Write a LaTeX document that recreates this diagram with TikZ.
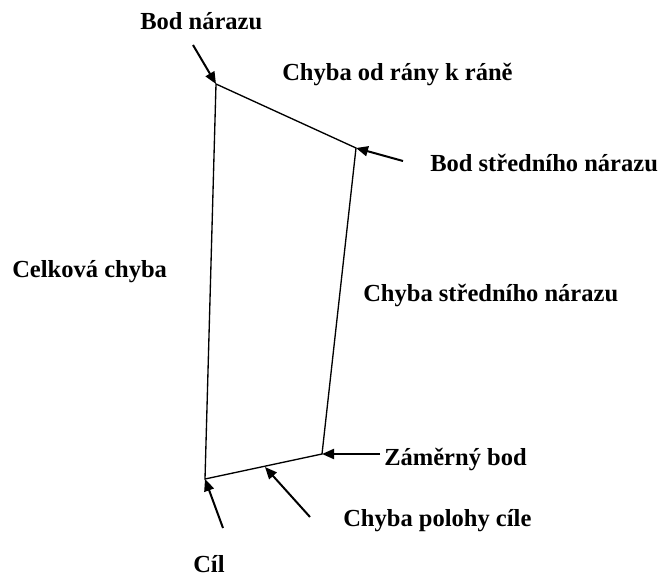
\documentclass[tikz,border=0pt]{standalone}
\usepackage{fontspec}
\setmainfont{Liberation Serif}
\usetikzlibrary{arrows.meta}
\begin{document}
\begin{tikzpicture}[x=0.75pt,y=-0.75pt,
  lbl/.style={anchor=base west,inner sep=0pt,font=\fontsize{18.4}{22}\selectfont\bfseries},
  edge/.style={line width=1pt},
  ptr/.style={line width=1.5pt,-{Triangle[length=9pt,width=7.5pt]}}]
\useasboundingbox (0,0) rectangle (660,577);
% vertices
\coordinate (A) at (216,84);
\coordinate (B) at (356,148);
\coordinate (C) at (322,454);
\coordinate (D) at (205,479);
\coordinate (M) at (265,467);
% arrow tails
\coordinate (tA) at (193,45);
\coordinate (tB) at (403,161);
\coordinate (tC) at (380,454);
\coordinate (tM) at (310,517);
\coordinate (tD) at (223,528);
% quadrilateral
\draw[edge] (A) -- (B) -- (C) -- (D) -- cycle;
% pointers
\draw[ptr] (tA) -- (A);
\draw[ptr] (tB) -- (B);
\draw[ptr] (tC) -- (C);
\draw[ptr] (tM) -- (M);
\draw[ptr] (tD) -- (D);
% labels
\node[lbl] (l1) at (140,30) {Bod nárazu};
\node[lbl] (l2) at (282,81) {Chyba od rány k ráně};
\node[lbl] (l3) at (430,172) {Bod středního nárazu};
\node[lbl] (l4) at (12,277) {Celková chyba};
\node[lbl] (l5) at (363,301) {Chyba středního nárazu};
\node[lbl] (l6) at (384,465) {Záměrný bod};
\node[lbl] (l7) at (343,526) {Chyba polohy cíle};
\node[lbl] (l8) at (193,572) {Cíl};
\end{tikzpicture}
\end{document}
